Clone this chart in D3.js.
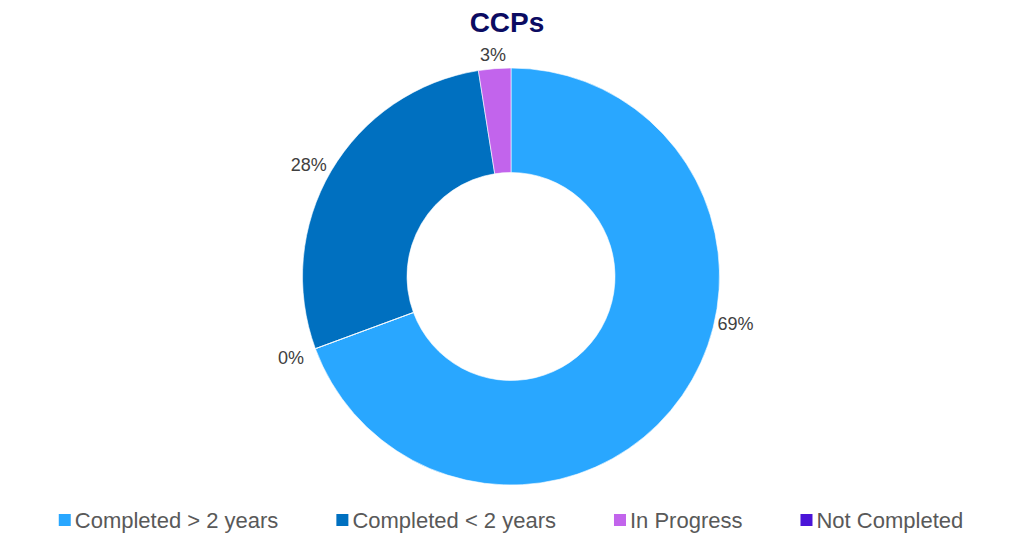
<!DOCTYPE html>
<html lang="en">
<head>
  <meta charset="UTF-8">
  <title>CCPs</title>
  <script src="https://d3js.org/d3.v7.min.js"></script>
  <style>
    body { margin: 0; background: #ffffff; }
    text { font-family: "Liberation Sans", Arial, sans-serif; }
    .title { font-size: 28px; font-weight: bold; fill: #0b0b62; }
    .label { font-size: 18px; fill: #404040; }
    .legend text { font-size: 22px; fill: #595959; }
  </style>
</head>
<body>
  <script>
    const width = 1014, height = 553;

    // Data (legend order)
    const categories = ["Completed > 2 years", "Completed < 2 years", "In Progress", "Not Completed"];
    const counts = [111, 45, 4, 0];
    const colors = ["#29a7ff", "#0070c0", "#c264ec", "#4a14d8"];
    // order the slices are laid out clockwise from 12 o'clock
    const sliceOrder = ["Completed > 2 years", "Not Completed", "Completed < 2 years", "In Progress"];

    const data = categories.map((name, i) => ({ name, value: counts[i], color: colors[i] }));
    const total = d3.sum(counts);

    const cx = 511, cy = 276.5;
    const outerR = 208.5, innerR = 104;

    const svg = d3.select("body").append("svg")
      .attr("width", width)
      .attr("height", height);

    // Title
    svg.append("text")
      .attr("class", "title")
      .attr("x", width / 2)
      .attr("y", 32)
      .attr("text-anchor", "middle")
      .text("CCPs");

    const pie = d3.pie()
      .value(d => d.value)
      .sort((a, b) => sliceOrder.indexOf(a.name) - sliceOrder.indexOf(b.name));

    const arcs = pie(data);
    const arc = d3.arc().innerRadius(innerR).outerRadius(outerR);

    const g = svg.append("g").attr("transform", `translate(${cx},${cy})`);

    g.selectAll("path")
      .data(arcs)
      .enter().append("path")
      .attr("d", arc)
      .attr("fill", d => d.data.color)
      .attr("stroke", "#ffffff")
      .attr("stroke-width", 0.6);

    // Data labels, placed just outside the ring
    // the big slice's label sits off-centre in the reference
    const labelShift = { "Completed > 2 years": -0.4 };
    const labelPush = { "Completed > 2 years": -5, "Not Completed": 5 };
    const gap = 8;

    g.selectAll("text.label")
      .data(arcs)
      .enter().append("text")
      .attr("class", "label")
      .attr("text-anchor", "middle")
      .attr("dy", "0.35em")
      .text(d => Math.round(d.data.value / total * 100) + "%")
      .each(function (d) {
        const t = d3.select(this);
        const w = this.getComputedTextLength();
        const h = 16;
        const a = (d.startAngle + d.endAngle) / 2 + (labelShift[d.data.name] || 0);
        const s = Math.sin(a), c = Math.cos(a);
        const r = outerR + gap + (labelPush[d.data.name] || 0);
        const x = r * s + s * w / 2;
        const y = -r * c - c * h / 2 + 1.5;
        t.attr("x", x).attr("y", y);
      });

    // Legend
    const legend = svg.append("g").attr("class", "legend");
    const sq = 12, textGap = 4, itemGap = 58, legendY = 520;

    const items = legend.selectAll("g")
      .data(data)
      .enter().append("g");

    items.append("rect")
      .attr("width", sq)
      .attr("height", sq)
      .attr("y", legendY - sq / 2)
      .attr("fill", d => d.color);

    items.append("text")
      .attr("x", sq + textGap)
      .attr("y", legendY + 7.5)
      .text(d => d.name);

    let offset = 0;
    const widths = [];
    items.each(function () {
      widths.push(sq + textGap + d3.select(this).select("text").node().getComputedTextLength());
    });
    const totalW = d3.sum(widths) + itemGap * (widths.length - 1);
    const x0 = cx - totalW / 2;
    items.attr("transform", (d, i) => {
      const x = x0 + offset;
      offset += widths[i] + itemGap;
      return `translate(${x},0)`;
    });
  </script>
</body>
</html>
